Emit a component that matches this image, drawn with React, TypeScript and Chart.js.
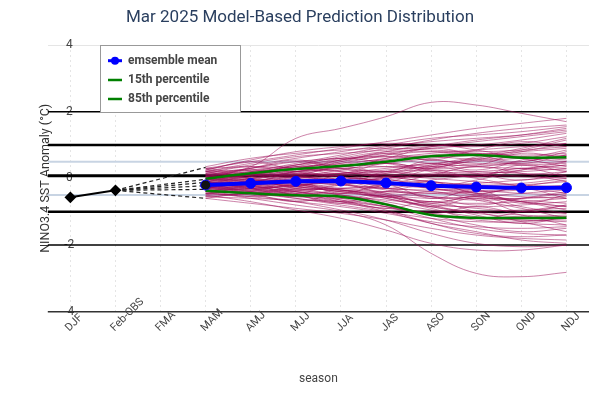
import React, { useEffect, useRef } from "react";
import { Chart, registerables } from "chart.js";

Chart.register(...registerables);

const titleText = "Mar 2025 Model-Based Prediction Distribution";
const seasons = ["DJF", "Feb-OBS", "FMA", "MAM", "AMJ", "MJJ", "JJA", "JAS", "ASO", "SON", "OND", "NDJ"];
const yTickValues = [4, 2, 0, -2, -4];

// observations (DJF, Feb-OBS)
const observed = [-0.57, -0.36];
// model start values at MAM (dashed connectors from Feb-OBS)
const modelStarts = [0.33, -0.03, -0.12, -0.22, -0.33, -0.6];

// forecast seasons MAM..NDJ
const ensembleMean = [-0.2, -0.15, -0.09, -0.08, -0.14, -0.22, -0.26, -0.29, -0.28];
const pct85 = [-0.01, 0.15, 0.28, 0.37, 0.5, 0.66, 0.7, 0.62, 0.63];
const pct15 = [-0.37, -0.45, -0.51, -0.55, -0.78, -1.1, -1.18, -1.19, -1.18];

const members = [
  [0.1, 0.35, 1.2, 1.5, 1.85, 2.28, 2.2, 1.95, 1.7],
  [-0.4, -0.6, -0.8, -1.0, -1.4, -2.25, -2.85, -2.95, -2.82],
  [0.3, 0.5, 0.7, 0.9, 1.1, 1.3, 1.5, 1.65, 1.8],
  [0.2, 0.4, 0.6, 0.8, 1.0, 1.2, 1.3, 1.4, 1.55],
  [0.0, 0.2, 0.45, 0.7, 0.95, 1.1, 1.2, 1.3, 1.45],
  [0.25, 0.55, 0.8, 0.95, 1.05, 1.0, 0.95, 1.05, 1.25],
  [-0.1, 0.1, 0.3, 0.55, 0.75, 0.9, 1.0, 1.15, 1.35],
  [0.35, 0.6, 0.75, 0.85, 0.9, 0.85, 0.8, 0.85, 0.95],
  [-0.2, 0.0, 0.2, 0.4, 0.6, 0.75, 0.85, 0.95, 1.05],
  [0.05, 0.25, 0.4, 0.55, 0.7, 0.8, 0.75, 0.7, 0.75],
  [-0.3, -0.1, 0.15, 0.35, 0.55, 0.7, 0.75, 0.65, 0.55],
  [0.15, 0.3, 0.5, 0.6, 0.65, 0.55, 0.45, 0.45, 0.5],
  [-0.15, 0.05, 0.25, 0.35, 0.45, 0.6, 0.7, 0.8, 0.9],
  [-0.05, 0.15, 0.3, 0.45, 0.55, 0.45, 0.35, 0.3, 0.25],
  [-0.25, -0.15, 0.0, 0.15, 0.3, 0.45, 0.55, 0.65, 0.7],
  [0.1, 0.2, 0.35, 0.4, 0.35, 0.3, 0.35, 0.5, 0.7],
  [-0.35, -0.2, -0.05, 0.1, 0.25, 0.35, 0.4, 0.4, 0.45],
  [0.0, 0.1, 0.2, 0.25, 0.2, 0.1, 0.05, 0.1, 0.2],
  [-0.2, -0.1, 0.05, 0.15, 0.2, 0.25, 0.2, 0.15, 0.1],
  [-0.1, 0.0, 0.1, 0.15, 0.1, 0.0, -0.1, -0.2, -0.25],
  [-0.3, -0.25, -0.15, -0.05, 0.05, 0.15, 0.2, 0.3, 0.4],
  [0.05, 0.1, 0.05, -0.05, -0.15, -0.2, -0.15, -0.05, 0.05],
  [-0.45, -0.35, -0.2, -0.1, 0.0, 0.05, 0.1, 0.05, 0.0],
  [-0.15, -0.1, -0.05, 0.0, -0.05, -0.15, -0.25, -0.3, -0.3],
  [-0.25, -0.2, -0.15, -0.1, -0.15, -0.25, -0.35, -0.45, -0.5],
  [-0.05, -0.05, -0.1, -0.2, -0.3, -0.35, -0.3, -0.2, -0.1],
  [-0.35, -0.3, -0.2, -0.15, -0.2, -0.3, -0.4, -0.35, -0.25],
  [-0.2, -0.25, -0.3, -0.35, -0.45, -0.55, -0.6, -0.6, -0.55],
  [-0.5, -0.45, -0.35, -0.3, -0.3, -0.4, -0.5, -0.65, -0.75],
  [-0.1, -0.15, -0.25, -0.4, -0.55, -0.7, -0.75, -0.7, -0.6],
  [-0.3, -0.35, -0.4, -0.45, -0.55, -0.75, -0.9, -1.0, -1.05],
  [-0.4, -0.45, -0.5, -0.55, -0.65, -0.8, -0.85, -0.8, -0.7],
  [0.0, -0.1, -0.25, -0.4, -0.6, -0.85, -1.0, -1.1, -1.15],
  [-0.55, -0.6, -0.65, -0.7, -0.85, -1.05, -1.2, -1.25, -1.25],
  [-0.25, -0.35, -0.5, -0.65, -0.85, -1.1, -1.25, -1.35, -1.4],
  [-0.45, -0.55, -0.7, -0.85, -1.05, -1.3, -1.45, -1.5, -1.45],
  [-0.15, -0.25, -0.4, -0.6, -0.85, -1.2, -1.5, -1.65, -1.7],
  [-0.6, -0.75, -0.9, -1.05, -1.25, -1.5, -1.7, -1.8, -1.85],
  [-0.35, -0.5, -0.7, -0.95, -1.25, -1.65, -1.95, -2.05, -2.0],
  [-0.5, -0.7, -0.95, -1.2, -1.55, -1.95, -2.15, -2.15, -2.0],
  [-0.2, -0.4, -0.6, -0.8, -1.0, -1.2, -1.3, -1.3, -1.2],
  [0.2, 0.25, 0.2, 0.05, -0.1, -0.3, -0.45, -0.55, -0.6],
  [0.3, 0.35, 0.3, 0.2, 0.05, -0.1, -0.2, -0.25, -0.25],
  [-0.1, 0.05, 0.15, 0.05, -0.1, -0.3, -0.5, -0.7, -0.85],
  [-0.4, -0.3, -0.25, -0.35, -0.55, -0.85, -1.05, -1.15, -1.1],
  [0.15, 0.1, 0.0, -0.15, -0.35, -0.55, -0.65, -0.6, -0.45],
  [-0.3, -0.15, 0.0, 0.1, 0.05, -0.1, -0.2, -0.15, 0.0],
  [-0.05, 0.1, 0.3, 0.5, 0.65, 0.65, 0.55, 0.4, 0.3],
  [-0.55, -0.45, -0.3, -0.15, 0.0, 0.1, 0.15, 0.2, 0.3],
  [-0.2, -0.3, -0.35, -0.3, -0.2, -0.05, 0.1, 0.25, 0.4],
  [0.1, 0.0, -0.15, -0.3, -0.4, -0.45, -0.4, -0.3, -0.2],
  [-0.35, -0.45, -0.6, -0.75, -0.9, -1.0, -1.0, -0.95, -0.9],
  [-0.1, -0.2, -0.35, -0.5, -0.7, -0.95, -1.15, -1.25, -1.3],
  [0.2, 0.45, 0.65, 0.75, 0.85, 0.95, 1.1, 1.25, 1.4],
  [-0.25, -0.05, 0.2, 0.45, 0.7, 0.95, 1.15, 1.3, 1.5],
  [-0.45, -0.5, -0.55, -0.7, -0.95, -1.35, -1.65, -1.75, -1.7],
  [0.05, -0.05, -0.2, -0.35, -0.5, -0.6, -0.55, -0.45, -0.35],
  [-0.15, 0.0, 0.2, 0.3, 0.35, 0.4, 0.5, 0.6, 0.6],
  [-0.3, -0.4, -0.45, -0.45, -0.4, -0.45, -0.55, -0.7, -0.85],
  [0.0, 0.15, 0.35, 0.6, 0.8, 0.8, 0.7, 0.6, 0.5],
  [-0.05, 0.2, 0.1, 0.35, 0.2, 0.55, 0.4, 0.75, 0.6],
  [0.25, 0.1, 0.3, 0.15, 0.45, 0.3, 0.65, 0.9, 1.2],
  [-0.3, -0.05, -0.25, 0.1, -0.1, 0.25, 0.05, 0.4, 0.2],
  [-0.15, -0.35, -0.1, -0.45, -0.2, -0.6, -0.35, -0.75, -0.5],
  [0.1, -0.1, 0.15, -0.05, -0.3, -0.1, -0.45, -0.3, -0.6],
  [-0.5, -0.25, -0.45, -0.2, -0.5, -0.85, -0.6, -1.0, -0.8],
  [0.0, 0.3, 0.55, 0.35, 0.6, 0.9, 0.7, 0.5, 0.8],
  [-0.2, 0.05, -0.15, -0.4, -0.2, 0.1, 0.35, 0.15, -0.1],
  [0.3, 0.15, 0.4, 0.6, 0.45, 0.2, 0.0, -0.25, -0.45],
  [-0.4, -0.2, 0.05, -0.15, -0.45, -0.7, -0.5, -0.25, -0.05],
  [-0.1, -0.3, -0.55, -0.35, -0.6, -0.9, -1.2, -1.0, -0.8],
  [0.15, 0.35, 0.2, 0.5, 0.75, 0.55, 0.85, 1.1, 0.95],
  [-0.25, -0.1, 0.1, 0.3, 0.15, 0.4, 0.6, 0.45, 0.7],
  [-0.35, -0.55, -0.4, -0.65, -0.9, -0.7, -1.0, -1.3, -1.6],
  [0.05, 0.25, 0.1, -0.1, 0.15, 0.35, 0.15, -0.05, 0.2],
  [-0.2, -0.4, -0.25, -0.05, -0.3, -0.55, -0.8, -0.6, -0.4],
  [0.2, 0.0, -0.2, -0.05, 0.2, 0.45, 0.25, 0.55, 0.85],
  [-0.45, -0.3, -0.5, -0.75, -0.55, -0.8, -1.1, -1.35, -1.15],
  [-0.05, 0.1, 0.35, 0.2, 0.0, -0.25, -0.05, 0.25, 0.5],
  [-0.3, -0.15, -0.35, -0.2, 0.05, 0.3, 0.55, 0.8, 1.05],
  [0.1, 0.3, 0.5, 0.3, 0.1, 0.35, 0.6, 0.85, 1.15],
  [-0.15, -0.3, -0.5, -0.7, -0.5, -0.75, -0.55, -0.85, -1.05],
  [-0.6, -0.4, -0.2, -0.35, -0.55, -0.4, -0.65, -0.9, -1.2],
  [0.0, -0.15, 0.05, 0.25, 0.45, 0.25, 0.05, 0.3, 0.05],
  [-0.25, -0.45, -0.7, -0.5, -0.8, -1.1, -1.4, -1.6, -1.5],
  [0.25, 0.5, 0.3, 0.55, 0.8, 1.0, 0.85, 0.6, 0.35],
  [-0.4, -0.2, -0.4, -0.6, -0.4, -0.2, -0.45, -0.7, -0.95],
  [-0.1, 0.15, 0.4, 0.65, 0.9, 1.15, 1.35, 1.5, 1.6],
  [0.05, -0.2, -0.45, -0.7, -1.0, -1.35, -1.6, -1.85, -1.95],
  [-0.3, -0.1, -0.3, -0.5, -0.75, -1.05, -0.85, -1.1, -1.4],
];

// reference horizontal lines
const blackLines = [2, 1, 0.08, -1, -2];
const blackLineWidths = [1.5, 2.5, 3, 2.5, 1.5];
const blueLines = [0.5, -0.5];

const FONT = "Roboto";
const forecastOffset = 3; // MAM index
const pad = (arr: number[]) => [...Array(forecastOffset).fill(null), ...arr];

const linesPlugin = {
  id: "refLines",
  beforeDatasetsDraw(chart: any) {
    const { ctx, chartArea, scales } = chart;
    const y = scales.y;
    ctx.save();
    // bottom axis line
    ctx.strokeStyle = "#333";
    ctx.lineWidth = 1.5;
    ctx.beginPath();
    ctx.moveTo(chartArea.left, chartArea.bottom);
    ctx.lineTo(chartArea.right, chartArea.bottom);
    ctx.stroke();
    blueLines.forEach((v) => {
      const py = y.getPixelForValue(v);
      ctx.strokeStyle = "#c8d4e3";
      ctx.lineWidth = 2;
      ctx.beginPath();
      ctx.moveTo(chartArea.left, py);
      ctx.lineTo(chartArea.right, py);
      ctx.stroke();
    });
    blackLines.forEach((v, i) => {
      const py = y.getPixelForValue(v);
      ctx.strokeStyle = "#000";
      ctx.lineWidth = blackLineWidths[i];
      ctx.beginPath();
      ctx.moveTo(chartArea.left, py);
      ctx.lineTo(chartArea.right, py);
      ctx.stroke();
    });
    ctx.restore();
  },
};

const overlayPlugin = {
  id: "overlay",
  afterDraw(chart: any) {
    const { ctx, chartArea, scales } = chart;
    const x = scales.x;
    // rotated x tick labels
    ctx.save();
    ctx.font = `11px ${FONT}`;
    ctx.fillStyle = "#444";
    ctx.textAlign = "left";
    ctx.textBaseline = "alphabetic";
    seasons.forEach((s, i) => {
      const px = x.getPixelForValue(i);
      ctx.save();
      ctx.translate(px - 1, chartArea.bottom + 20);
      ctx.rotate(-Math.PI / 4);
      ctx.fillText(s, 0, 0);
      ctx.restore();
    });
    ctx.restore();

    // legend box
    const bx = 100.5, by = 45.5, bw = 140, bh = 67;
    ctx.save();
    ctx.fillStyle = "#fff";
    ctx.fillRect(bx, by, bw, bh);
    ctx.strokeStyle = "#999";
    ctx.lineWidth = 1;
    ctx.strokeRect(bx, by, bw, bh);
    const rows = [
      { label: "emsemble mean", color: "#0000ff", width: 3, dot: true },
      { label: "15th percentile", color: "#008000", width: 2.5, dot: false },
      { label: "85th percentile", color: "#008000", width: 2.5, dot: false },
    ];
    const rowY = [60.7, 80, 99];
    rows.forEach((r, i) => {
      const ry = rowY[i];
      ctx.strokeStyle = r.color;
      ctx.lineWidth = r.width;
      ctx.beginPath();
      ctx.moveTo(108, ry);
      ctx.lineTo(122, ry);
      ctx.stroke();
      if (r.dot) {
        ctx.fillStyle = r.color;
        ctx.beginPath();
        ctx.arc(115, ry, 4, 0, Math.PI * 2);
        ctx.fill();
      }
      ctx.fillStyle = "#444";
      ctx.font = `bold 12px ${FONT}`;
      ctx.textAlign = "left";
      ctx.textBaseline = "middle";
      ctx.fillText(r.label, 128, ry);
    });
    ctx.restore();
  },
};

export default function App() {
  const canvasRef = useRef<HTMLCanvasElement | null>(null);

  useEffect(() => {
    if (!canvasRef.current) return;
    Chart.defaults.font.family = FONT;

    const memberSets = members.map((m) => ({
      label: "member",
      data: pad(m),
      borderColor: "rgba(155, 10, 85, 0.5)",
      borderWidth: 1,
      pointRadius: 0,
      tension: 0.4,
      fill: false,
    }));

    const dashedSets = modelStarts.map((v) => {
      const d: (number | null)[] = seasons.map(() => null);
      d[1] = observed[1];
      d[forecastOffset] = v;
      return {
        label: "start",
        data: d,
        borderColor: "#222",
        borderWidth: 1.2,
        borderDash: [4, 3],
        pointRadius: 0,
        spanGaps: true,
        tension: 0,
      };
    });

    const obsData: (number | null)[] = seasons.map(() => null);
    observed.forEach((v, i) => (obsData[i] = v));

    const chart = new Chart(canvasRef.current, {
      type: "line",
      data: {
        labels: seasons,
        datasets: [
          {
            label: "emsemble mean",
            data: pad(ensembleMean),
            borderColor: "#0000ff",
            pointBackgroundColor: [null, null, null, ...ensembleMean.map((_, i) => (i === 0 ? "#111" : "#0000ff"))] as any,
            pointBorderColor: "#0000ff",
            pointBorderWidth: 1,
            borderWidth: 4,
            pointRadius: 5,
            tension: 0,
          },
          {
            label: "85th percentile",
            data: pad(pct85),
            borderColor: "#008000",
            borderWidth: 2.5,
            pointRadius: 0,
            tension: 0.4,
          },
          {
            label: "15th percentile",
            data: pad(pct15),
            borderColor: "#008000",
            borderWidth: 2.5,
            pointRadius: 0,
            tension: 0.4,
          },
          {
            label: "observed",
            data: obsData,
            borderColor: "#000",
            backgroundColor: "#000",
            borderWidth: 2,
            pointStyle: "rectRot",
            pointRadius: 4.5,
            tension: 0,
          },
          ...dashedSets,
          ...memberSets,
        ] as any,
      },
      options: {
        animation: false,
        responsive: false,
        layout: { padding: { left: 11, right: 11, top: 0, bottom: 0 } },
        plugins: {
          legend: { display: false },
          tooltip: { enabled: false },
          title: {
            display: true,
            text: titleText,
            color: "#2a3f5f",
            font: { family: FONT, size: 17, weight: "normal" },
            padding: { top: 7.8, bottom: 16.8 },
          },
        },
        scales: {
          x: {
            type: "category",
            offset: true,
            grid: {
              display: true,
              offset: false,
              drawTicks: false,
              color: "rgba(0,0,0,0.10)",
              lineWidth: 1,
            } as any,
            border: { display: false, dash: [2, 3] } as any,
            ticks: { display: false },
            title: {
              display: true,
              text: "season",
              color: "#444",
              font: { family: FONT, size: 12 },
              padding: { top: 60.1, bottom: 13.8 },
            },
          },
          y: {
            type: "linear",
            min: -4,
            max: 4,
            afterBuildTicks: (scale: any) => {
              scale.ticks = yTickValues.map((v) => ({ value: v }));
            },
            grid: {
              drawTicks: false,
              color: (c: any) => (c.tick && c.tick.value === 4 ? "#e5e5e5" : "rgba(0,0,0,0)"),
            },
            border: { display: false },
            ticks: {
              mirror: true,
              crossAlign: "center",
              padding: 16.5,
              color: "#444",
              font: { family: FONT, size: 12 },
              callback: (v: any) => String(v),
            },
            title: {
              display: true,
              text: "NINO3.4 SST Anomaly (°C)",
              color: "#333",
              font: { family: FONT, size: 12.5 },
              padding: { top: 27.4, bottom: -38.6 },
            },
          },
        },
      } as any,
      plugins: [linesPlugin, overlayPlugin],
    });

    return () => chart.destroy();
  }, []);

  return (
    <div style={{ position: "absolute", left: 0, top: 0, width: 600, height: 400 }}>
      <canvas ref={canvasRef} width={600} height={400} style={{ display: "block" }} />
    </div>
  );
}
